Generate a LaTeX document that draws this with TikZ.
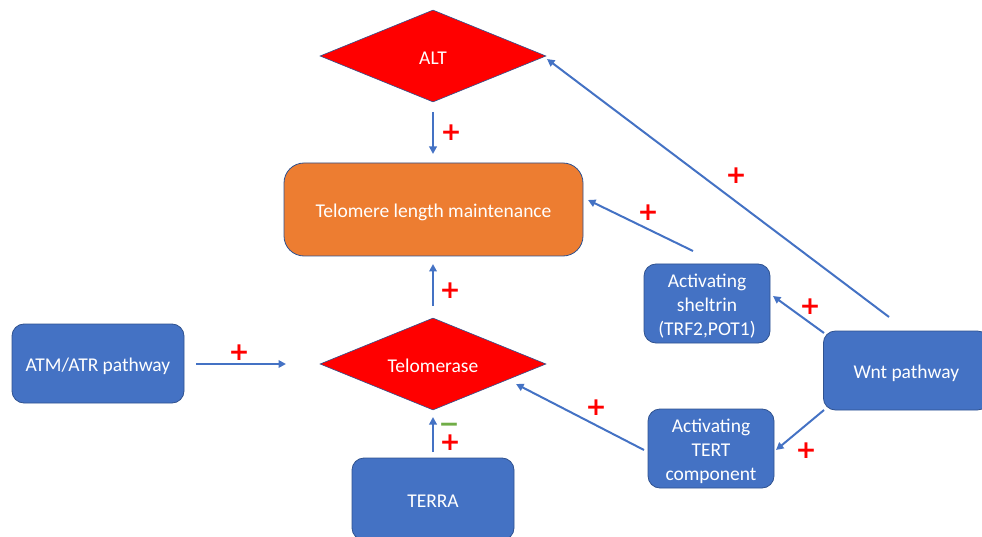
\documentclass[tikz,border=0pt]{standalone}
\usepackage{fontspec}
\setmainfont{Carlito}
\newfontfamily\symfont{DejaVu Sans}
\usetikzlibrary{shapes.geometric,arrows.meta}
\definecolor{boxblue}{HTML}{4472C4}
\definecolor{edgeblue}{HTML}{2F528F}
\definecolor{orng}{HTML}{ED7D31}
\definecolor{plusred}{HTML}{FF0000}
\definecolor{minusgreen}{HTML}{70AD47}
\newcommand\lbl[1]{\raisebox{-3.5pt}[\height][\depth]{\begin{tabular}{@{}c@{}}#1\end{tabular}}}
\begin{document}
\begin{tikzpicture}[x=1pt,y=-1pt,
  bluebox/.style={draw=edgeblue,line width=0.8pt,fill=boxblue,rounded corners=12pt,text=white,align=center,inner sep=0pt,font=\fontsize{19.5}{24}\selectfont},
  dia/.style={diamond,aspect=2.45,draw=edgeblue,line width=0.6pt,fill=plusred,inner sep=0pt,minimum width=226pt,minimum height=92pt,text=white,font=\fontsize{19.5}{24}\selectfont},
  arr/.style={draw=boxblue,line width=2pt,-{Triangle[length=7.5pt,width=7.5pt]}},
  plus/.style={text=plusred,font=\symfont\bfseries\fontsize{25}{25}\selectfont,inner sep=0pt},
  minus/.style={text=minusgreen,font=\symfont\bfseries\fontsize{25}{25}\selectfont,inner sep=0pt}]
\useasboundingbox (0,0) rectangle (982,537);
% nodes
\node[dia] (alt) at (433,56) {\lbl{ALT}};
\node[bluebox,fill=orng,rounded corners=20pt,minimum width=299pt,minimum height=93pt] (tlm) at (433.5,209.5) {\lbl{Telomere length maintenance}};
\node[dia] (tase) at (433,364) {\lbl{Telomerase}};
\node[bluebox,minimum width=172pt,minimum height=79pt] (atm) at (98,363.5) {\lbl{ATM/ATR pathway}};
\node[bluebox,minimum width=162pt,minimum height=82pt] (terra) at (433,499) {\lbl{TERRA}};
\node[bluebox,minimum width=126pt,minimum height=79pt] (shel) at (707,303.5) {\lbl{Activating\\sheltrin\\(TRF2,POT1)}};
\node[bluebox,minimum width=166pt,minimum height=79pt,anchor=west] (wnt) at (823,370.5) {\lbl{Wnt pathway}};
\node[bluebox,minimum width=126pt,minimum height=79pt] (tert) at (711,448.5) {\lbl{Activating\\TERT\\component}};
% free ends
\coordinate (e1s) at (433,112);
\coordinate (e1e) at (433,154);
\coordinate (e2s) at (433,306);
\coordinate (e2e) at (433,264);
\coordinate (e3s) at (196,364);
\coordinate (e3e) at (286,364);
\coordinate (e4s) at (433,452);
\coordinate (e4e) at (433,417);
\coordinate (e5s) at (693,251);
\coordinate (e5e) at (588,200);
\coordinate (e6s) at (889,317);
\coordinate (e6e) at (547,59);
\coordinate (e7s) at (824,333);
\coordinate (e7e) at (773,296);
\coordinate (e8s) at (824,410);
\coordinate (e8e) at (776,450);
\coordinate (e9s) at (644,450);
\coordinate (e9e) at (516,384);
% connectors
\draw[arr] (e1s) -- (e1e);
\draw[arr] (e2s) -- (e2e);
\draw[arr] (e3s) -- (e3e);
\draw[arr] (e4s) -- (e4e);
\draw[arr] (e5s) -- (e5e);
\draw[arr] (e6s) -- (e6e);
\draw[arr] (e7s) -- (e7e);
\draw[arr] (e8s) -- (e8e);
\draw[arr] (e9s) -- (e9e);
% signs
\node[plus] (p1) at (451,133) {+};
\node[plus] (p2) at (450,291) {+};
\node[plus] (p3) at (239,353) {+};
\node[minus] (m4) at (449,428) {\raisebox{0pt}[9.5pt][-5.5pt]{−}};
\node[plus] (p4) at (450,443) {+};
\node[plus] (p5) at (648,213) {+};
\node[plus] (p6) at (736,176) {+};
\node[plus] (p7) at (810,307) {+};
\node[plus] (p8) at (806,451) {+};
\node[plus] (p9) at (596,408) {+};
\end{tikzpicture}
\end{document}
